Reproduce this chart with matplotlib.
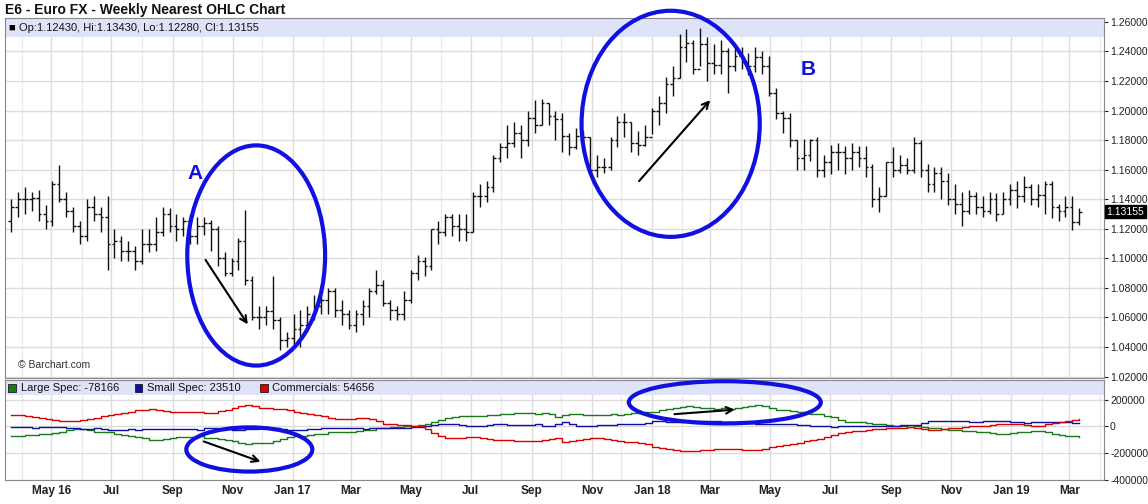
import matplotlib
matplotlib.use("Agg")
import matplotlib.pyplot as plt
import matplotlib.dates as mdates
from matplotlib.patches import Ellipse, Rectangle
import numpy as np
import pandas as pd

plt.rcParams['font.family'] = ['Liberation Sans', 'DejaVu Sans']

closes = [1.135,1.140,
 1.140,1.141,1.130,1.125,1.150, 1.140,1.132,1.122,1.115, 1.135,1.130,1.128,1.110,
 1.112,1.105,1.105,1.098,1.110, 1.110,1.118,1.130,1.122, 1.120,1.125,1.115,1.122,1.124,
 1.120,1.100,1.090,1.098, 1.112,1.085,1.060,1.060, 1.064,1.058,1.045,1.046,1.052,
 1.055,1.062,1.068,1.072, 1.078,1.065,1.062,1.055, 1.062,1.068,1.078,1.082,1.070,
 1.065,1.062,1.072,1.090, 1.098,1.095,1.120,1.118, 1.128,1.122,1.120,1.118,1.142,
 1.142,1.148,1.168,1.175, 1.178,1.185,1.180,1.195, 1.190,1.205,1.196,1.194,1.183,
 1.175,1.183,1.182,1.160, 1.162,1.162,1.180,1.192, 1.192,1.178,1.177,1.182,1.200,
 1.205,1.218,1.222,1.243, 1.246,1.228,1.245,1.232, 1.231,1.240,1.230,1.237,1.233,
 1.230,1.236,1.230,1.212, 1.198,1.195,1.180,1.168, 1.170,1.180,1.160,1.165,1.172,
 1.172,1.168,1.172,1.168, 1.162,1.140,1.142,1.165,1.160, 1.163,1.160,1.178,1.160,
 1.150,1.158,1.152,1.140, 1.137,1.132,1.142,1.135,1.132, 1.140,1.130,1.140,1.146,
 1.142,1.148,1.140,1.143, 1.150,1.135,1.132,1.135, 1.1243,1.13155]
highs = [1.140,1.145,
 1.148,1.145,1.146,1.136,1.152, 1.163,1.145,1.135,1.125, 1.140,1.142,1.135,1.142,
 1.120,1.115,1.112,1.108,1.120, 1.120,1.128,1.135,1.134, 1.130,1.128,1.130,1.128,1.128,
 1.126,1.122,1.104,1.100, 1.114,1.133,1.088,1.068, 1.068,1.088,1.060,1.050,1.062,
 1.065,1.068,1.075,1.078, 1.080,1.080,1.072,1.065, 1.065,1.072,1.080,1.092,1.085,
 1.072,1.068,1.078,1.092, 1.102,1.101,1.120,1.125, 1.130,1.130,1.130,1.130,1.145,
 1.150,1.152,1.170,1.178, 1.190,1.192,1.190,1.200, 1.207,1.208,1.205,1.200,1.198,
 1.185,1.188,1.186,1.182, 1.170,1.168,1.182,1.196, 1.198,1.192,1.186,1.190,1.202,
 1.210,1.223,1.230,1.252, 1.255,1.248,1.256,1.250, 1.245,1.248,1.242,1.245,1.243,
 1.239,1.243,1.240,1.237, 1.215,1.200,1.198,1.180, 1.181,1.181,1.182,1.170,1.177,
 1.178,1.176,1.178,1.176, 1.176,1.164,1.148,1.165,1.175, 1.170,1.168,1.182,1.180,
 1.164,1.162,1.162,1.158, 1.150,1.145,1.146,1.145,1.142, 1.145,1.144,1.145,1.150,
 1.152,1.156,1.150,1.150, 1.152,1.152,1.137,1.142, 1.142,1.1343]
lows = [1.118,1.128,
 1.130,1.132,1.125,1.120,1.122, 1.138,1.128,1.118,1.110, 1.112,1.125,1.118,1.092,
 1.100,1.098,1.098,1.092,1.096, 1.104,1.105,1.115,1.118, 1.112,1.115,1.110,1.110,1.116,
 1.105,1.095,1.088,1.088, 1.092,1.082,1.058,1.052, 1.055,1.052,1.038,1.040,1.042,
 1.040,1.050,1.058,1.062, 1.062,1.060,1.055,1.052, 1.050,1.055,1.060,1.076,1.068,
 1.058,1.058,1.058,1.070, 1.085,1.088,1.092,1.110, 1.115,1.115,1.112,1.112,1.118,
 1.135,1.138,1.145,1.165, 1.168,1.175,1.168,1.176, 1.185,1.190,1.190,1.180,1.172,
 1.170,1.174,1.174,1.160, 1.155,1.158,1.160,1.175, 1.182,1.172,1.170,1.176,1.184,
 1.190,1.198,1.210,1.222, 1.233,1.225,1.230,1.220, 1.225,1.225,1.212,1.227,1.228,
 1.224,1.226,1.225,1.210, 1.194,1.185,1.175,1.160, 1.160,1.166,1.155,1.155,1.157,
 1.160,1.157,1.160,1.162, 1.155,1.135,1.131,1.142,1.155, 1.158,1.157,1.158,1.155,
 1.145,1.145,1.140,1.136, 1.130,1.122,1.130,1.130,1.128, 1.130,1.125,1.130,1.136,
 1.134,1.138,1.136,1.135, 1.130,1.127,1.125,1.128, 1.119,1.1228]
first_open = 1.125

large_spec = [-72,-68,
 -65,-62,-58,-55,-50, -40,-25,-22,-22, -30,-40,-42,-45, -55,-65,-75,-80,-90,
 -105,-100,-95,-85, -80,-82,-78,-75,-85, -85,-95,-100,-110, -120,-130,-125,-122,
 -120,-110,-95,-80,-72,
 -68,-65,-60,-55, -45,-42,-40,-38, -35,-30,-28,-15,-10, -5,-2,0,5, 10,20,35,50,
 60,70,75,75,78, 80,82,85,90, 95,100,98,100, 95,100,90,72,85, 90,95,88,82,
 82,85,90,88, 95,100,98,105,110,
 120,132,140,148, 150,145,140,135, 132,138,130,140,145, 150,157,150,140,
 125,120,115,110, 100,95,90,80,70, 45,35,32,30, 25,20,15,10,5, 0,-5,0,-5,
 -10,-15,-20,-25, -30,-32,-35,-40,-45, -50,-56,-55,-50,
 -45,-38,-32,-35, -45,-55,-65,-70, -75,-78.166]
small_spec = [-3,-2,
 -5,-8,-5,-5,-5, -5,-10,-15,-20, -20,-15,-20,-25, -25,-25,-20,-25,-20,
 -20,-20,-20,-18, -20,-18,-22,-25,-15, -15,-20,-22,-25, -25,-20,-20,-15,
 -12,-15,-20,-30,-30,
 -25,-20,-20,-15, -10,-10,-8,-12, -15,-20,-15,-15,-10, -10,-10,-8,-5, -5,5,10,15,
 20,15,10,5,4, 5,10,15,15, 10,10,10,12, 17,0,5,15,30, 20,5,5,5,
 8,10,10,20, 20,17,20,25,40,
 40,35,35,32, 35,37,38,40, 38,29,35,30,30, 28,18,15,15,
 20,17,15,10, 10,5,2,0,-5, 5,5,5,5, 5,0,2,5,5, 10,10,8,25,
 40,40,40,40, 40,37,35,35,40, 40,41,40,30,
 30,28,32,30, 30,30,30,30, 25,23.51]
commercials = [85,82,
 78,72,65,55,45, 40,37,40,45, 55,65,75,85, 90,100,110,120,125,
 132,125,118,110, 107,105,110,108,100, 100,115,125,140, 150,157,150,140,
 135,128,127,120,110,
 100,90,82,75, 60,55,52,55, 62,65,55,40,20, 15,12,10,5, 0,-20,-50,-70,
 -85,-87,-85,-80,-82, -85,-95,-100,-105, -105,-110,-108,-112, -112,-100,-95,-90,-117,
 -110,-100,-95,-87, -90,-95,-100,-110, -115,-117,-120,-130,-150,
 -160,-167,-175,-180, -185,-182,-178,-175, -170,-167,-165,-170,-175, -178,-175,-165,-155,
 -145,-137,-130,-120, -110,-100,-92,-80,-65, -50,-40,-37,-35, -30,-20,-17,-15,-10,
 -10,-5,-8,-20, -30,-25,-20,-15, -10,-5,0,5,5, 10,15,15,20,
 15,10,0,5, 15,25,35,40, 50,54.656]

n = len(closes)
dates = pd.date_range("2016-03-21", periods=n, freq="W-MON")
x = mdates.date2num(dates)
opens = [first_open] + closes[:-1]

fig = plt.figure(figsize=(11.48, 5.04), dpi=100)
AX_L, AX_W = 0.0045, 0.957
ax = fig.add_axes([AX_L, 0.25, AX_W, 0.714])
ax2 = fig.add_axes([AX_L, 0.0476, AX_W, 0.198], sharex=ax)

grid_kw = dict(color='#dcdcdc', lw=1)
for a in (ax, ax2):
    a.set_facecolor('white')
    for s in ['top', 'left', 'right', 'bottom']:
        a.spines[s].set_color('#888888')
    a.yaxis.tick_right()
    a.xaxis.set_major_locator(mdates.MonthLocator(bymonth=[1,3,5,7,9,11]))
    a.xaxis.set_minor_locator(mdates.MonthLocator())
    a.grid(True, which='major', **grid_kw)
    a.grid(True, which='minor', axis='x', color='#ececec', lw=1)
    a.set_axisbelow(True)
    a.tick_params(axis='y', labelsize=7.5, length=3, pad=1.5, colors='#222222', direction='out')

def fmt_date(v, pos=None):
    d = mdates.num2date(v)
    if d.month == 1 or pos == 0:
        return d.strftime("%b %y")
    return d.strftime("%b")

ax2.xaxis.set_major_formatter(plt.FuncFormatter(fmt_date))
ax.tick_params(axis='x', labelbottom=False, length=0, which='both')
ax2.tick_params(axis='x', which='both', length=0, labelsize=8.5, colors='#222222')
for lab in ax2.get_xticklabels():
    lab.set_fontweight('bold')

# OHLC bars
tick = 2.8
for xi, o, h, l, c in zip(x, opens, highs, lows, closes):
    ax.vlines(xi, l, h, color='#111111', lw=1)
    ax.hlines(o, xi - tick, xi, color='#111111', lw=1)
    ax.hlines(c, xi, xi + tick, color='#111111', lw=1)

ax.set_ylim(1.019, 1.2625)
ax.set_yticks(np.arange(1.02, 1.261, 0.02))
ax.yaxis.set_major_formatter(plt.FuncFormatter(lambda v, p: f"{v:.5f}"))
xl0 = mdates.date2num(pd.Timestamp("2016-03-15"))
xl1 = mdates.date2num(pd.Timestamp("2019-04-05"))
ax.set_xlim(xl0, xl1)

# header band
ax.add_patch(Rectangle((0, 0.948), 1, 0.052, transform=ax.transAxes,
                       facecolor='#dfe3f8', edgecolor='none', zorder=1))
ax.text(0.003, 0.974, "\u25a0", transform=ax.transAxes, fontsize=8, va='center', color='black')
ax.text(0.013, 0.974, "Op:1.12430, Hi:1.13430, Lo:1.12280, Cl:1.13155",
        transform=ax.transAxes, fontsize=8, va='center', color='#111111')
ax.text(0.012, 0.035, "\u00a9 Barchart.com", transform=ax.transAxes, fontsize=7.5,
        color='#333333', va='center')

# last price box
ax.annotate("1.13155", xy=(1.0, 1.13155), xycoords=('axes fraction', 'data'),
            xytext=(2, 0), textcoords='offset points', va='center', ha='left',
            fontsize=7.5, color='white',
            bbox=dict(boxstyle='square,pad=0.15', fc='black', ec='black'))

fig.text(0.004, 0.981, "E6 - Euro FX - Weekly Nearest OHLC Chart", fontsize=10,
         fontweight='bold', va='center', color='#111111')

D = lambda s: mdates.date2num(pd.Timestamp(s))
blue = '#1010e0'
ax.add_patch(Ellipse((D("2016-11-25"), 1.1019), 140, 0.149, fill=False, ec=blue, lw=3, zorder=5))
ax.add_patch(Ellipse((D("2018-01-20"), 1.191), 181, 0.153, fill=False, ec=blue, lw=3,
                     zorder=5, clip_on=False))
ax.annotate("", xy=(D("2016-11-18"), 1.0537), xytext=(D("2016-10-03"), 1.1005),
            arrowprops=dict(arrowstyle='->', color='black', lw=1.5, mutation_scale=12))
ax.annotate("", xy=(D("2018-03-03"), 1.2084), xytext=(D("2017-12-17"), 1.1508),
            arrowprops=dict(arrowstyle='->', color='black', lw=1.5, mutation_scale=12))
ax.text(D("2016-09-16"), 1.1575, "A", color=blue, fontsize=15, fontweight='bold', va='center')
ax.text(D("2018-06-01"), 1.2278, "B", color=blue, fontsize=15, fontweight='bold', va='center')

# COT panel
k = 1000
ax2.step(x, np.array(large_spec) * k, where='post', color='#1a7a1a', lw=1)
ax2.step(x, np.array(small_spec) * k, where='post', color='#1010a0', lw=1)
ax2.step(x, np.array(commercials) * k, where='post', color='#dd0000', lw=1)
ax2.set_ylim(-400000, 345000)
ax2.set_yticks([-400000, -200000, 0, 200000])
ax2.yaxis.set_major_formatter(plt.FuncFormatter(lambda v, p: f"{int(v)}"))
ax2.add_patch(Rectangle((0, 0.85), 1, 0.15, transform=ax2.transAxes,
                        facecolor='#dfe3f8', edgecolor='none', zorder=1))
legend_items = [("Large Spec: -78166", '#1a7a1a', 0.003),
                ("Small Spec: 23510", '#1010a0', 0.118),
                ("Commercials: 54656", '#dd0000', 0.232)]
for txt, col, xp in legend_items:
    ax2.add_patch(Rectangle((xp, 0.885), 0.007, 0.08, transform=ax2.transAxes,
                            facecolor=col, edgecolor='black', lw=0.5, zorder=3))
    ax2.text(xp + 0.011, 0.925, txt, transform=ax2.transAxes, fontsize=8, va='center',
             color='#111111', zorder=3)

ax2.add_patch(Ellipse((D("2016-11-18"), -172000), 128, 330000, fill=False, ec=blue, lw=3,
                      zorder=5, clip_on=False))
ax2.add_patch(Ellipse((D("2018-03-16"), 180000), 195, 315000, fill=False, ec=blue, lw=3,
                      zorder=5, clip_on=False))
ax2.annotate("", xy=(D("2016-12-02"), -270000), xytext=(D("2016-09-30"), -105000),
             arrowprops=dict(arrowstyle='->', color='black', lw=1.5, mutation_scale=12))
ax2.annotate("", xy=(D("2018-03-29"), 127000), xytext=(D("2018-01-21"), 90000),
             arrowprops=dict(arrowstyle='->', color='black', lw=1.5, mutation_scale=12))

fig.savefig("out.png", dpi=100)
